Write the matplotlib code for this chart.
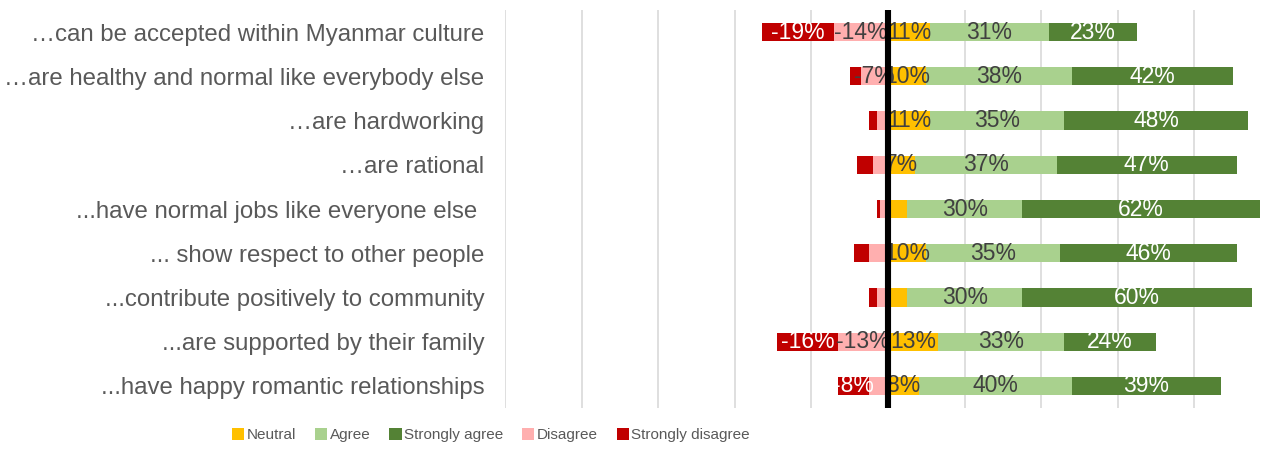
import matplotlib
matplotlib.use("Agg")
import matplotlib.pyplot as plt
from matplotlib.patches import Patch
from matplotlib import font_manager

# Survey statements (top to bottom)
statements = [
    "\u2026can be accepted within Myanmar culture",
    "\u2026are healthy and normal like everybody else",
    "\u2026are hardworking",
    "\u2026are rational",
    "...have normal jobs like everyone else ",
    "... show respect to other people",
    "...contribute positively to community",
    "...are supported by their family",
    "...have happy romantic relationships",
]

# Percentages per response category
neutral = [11, 10, 11, 7, 5, 10, 5, 13, 8]
agree = [31, 38, 35, 37, 30, 35, 30, 33, 40]
strongly_agree = [23, 42, 48, 47, 62, 46, 60, 24, 39]
disagree = [14, 7, 3, 4, 2, 5, 3, 13, 5]
strongly_disagree = [19, 3, 2, 4, 1, 4, 2, 16, 8]

colors = {
    "Neutral": "#FFC000",
    "Agree": "#A9D18E",
    "Strongly agree": "#548235",
    "Disagree": "#FFAFAF",
    "Strongly disagree": "#C00000",
}
label_colors = {
    "Neutral": "#404040",
    "Agree": "#404040",
    "Strongly agree": "white",
    "Disagree": "#404040",
    "Strongly disagree": "white",
}

available = {f.name for f in font_manager.fontManager.ttflist}
base_font = "Liberation Sans" if "Liberation Sans" in available else "DejaVu Sans"
plt.rcParams["font.family"] = [base_font, "DejaVu Sans"]

W, H = 1268, 449
fig = plt.figure(figsize=(W / 100, H / 100), dpi=100)
ax = fig.add_axes([505 / W, 1 - 408 / H, 766 / W, 398 / H])

y = list(range(len(statements)))
bar_h = 0.41


def draw(name, lefts, widths, signed):
    ax.barh(y, widths, left=lefts, height=bar_h, color=colors[name],
            edgecolor="none", zorder=2)
    for yi, l, w, v in zip(y, lefts, widths, signed):
        if abs(v) >= 6:
            ax.text(l + w / 2, yi, f"{v}%", ha="center", va="center",
                    fontsize=16.5, color=label_colors[name], zorder=3)


# positive side: neutral from zero, then agree, then strongly agree
draw("Neutral", [0] * 9, neutral, neutral)
draw("Agree", neutral, agree, agree)
draw("Strongly agree", [n + a for n, a in zip(neutral, agree)], strongly_agree, strongly_agree)
# negative side: disagree next to zero, strongly disagree outside
draw("Disagree", [-d for d in disagree], disagree, [-d for d in disagree])
draw("Strongly disagree", [-(d + s) for d, s in zip(disagree, strongly_disagree)],
     strongly_disagree, [-s for s in strongly_disagree])

ax.axvline(0, color="black", lw=4.4, zorder=5)

ax.set_xlim(-100, 100)
ax.set_ylim(len(statements) - 0.5, -0.5)
ax.set_xticks(range(-100, 101, 20))
ax.xaxis.grid(True, color="#D9D9D9", lw=1.2, zorder=0)
ax.set_axisbelow(True)
ax.tick_params(axis="x", bottom=False, labelbottom=False)
ax.tick_params(axis="y", left=False, length=0, pad=15, labelsize=17.3,
               labelcolor="#595959")
ax.set_yticks(y)
ax.set_yticklabels(statements)
for s in ax.spines.values():
    s.set_visible(False)

handles = [Patch(facecolor=colors[k], edgecolor="none") for k in
           ["Neutral", "Agree", "Strongly agree", "Disagree", "Strongly disagree"]]
leg = fig.legend(handles, list(colors.keys()), loc="center", ncol=5,
                 bbox_to_anchor=(491 / W, 1 - 435 / H), frameon=False,
                 handlelength=0.8, handleheight=0.8, handletextpad=0.15,
                 columnspacing=1.25,
                 prop={"family": [base_font, "DejaVu Sans"], "size": 11})
for t in leg.get_texts():
    t.set_color("#595959")

fig.savefig("out.png", dpi=100)
